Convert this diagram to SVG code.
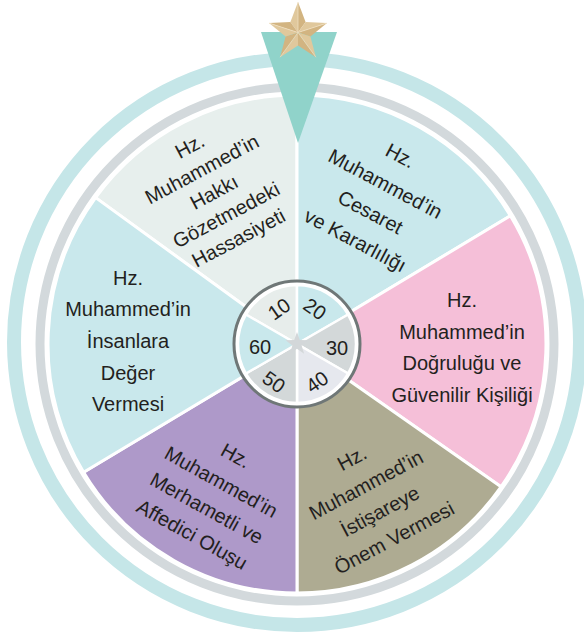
<svg xmlns="http://www.w3.org/2000/svg" width="584" height="638" viewBox="0 0 584 638">
<style>
.lbl{font-family:"Liberation Sans",Arial,sans-serif;font-size:20px;fill:#231f20;text-anchor:middle}
.num{font-family:"Liberation Sans",Arial,sans-serif;font-size:20px;fill:#231f20;text-anchor:middle;dominant-baseline:central}
.sl{stroke:#ffffff;stroke-width:3;stroke-linejoin:round}
.hs{stroke:#ffffff;stroke-width:2.5;stroke-linejoin:round}
.fa{fill:#e0c89c}
.fb{fill:#d2b481}
.ridge{stroke:#f1e3c6;stroke-width:0.7;fill:none}
</style>
<rect width="584" height="638" fill="#ffffff"/>
<g id="rings">
<circle cx="297" cy="342" r="283" fill="none" stroke="#c5e6e8" stroke-width="14"/>
<circle cx="297" cy="344" r="257" fill="none" stroke="#d3d9dc" stroke-width="9"/>
</g>
<g id="slice-top-left">
<path class="sl" d="M297,344 L95.6,197.6 A249,249 0 0 1 297,95 Z" fill="#e7efed"/>
<text class="lbl" transform="translate(214,192) rotate(-28)"><tspan x="0" y="-45">Hz.</tspan><tspan x="0" y="-19">Muhammed’in</tspan><tspan x="0" y="7">Hakkı</tspan><tspan x="0" y="33">Gözetmedeki</tspan><tspan x="0" y="59">Hassasiyeti</tspan></text>
</g>
<g id="slice-top-right">
<path class="sl" d="M297,344 L297,95 A249,249 0 0 1 510.4,215.8 Z" fill="#c9e8ec"/>
<text class="lbl" transform="translate(378,198) rotate(28)"><tspan x="0" y="-41">Hz.</tspan><tspan x="0" y="-9">Muhammed’in</tspan><tspan x="0" y="23">Cesaret</tspan><tspan x="0" y="55">ve Kararlılığı</tspan></text>
</g>
<g id="slice-right">
<path class="sl" d="M297,344 L510.4,215.8 A249,249 0 0 1 501,486.8 Z" fill="#f5bfd8"/>
<text class="lbl" transform="translate(462,347)"><tspan x="0" y="-40">Hz.</tspan><tspan x="0" y="-8.5">Muhammed’in</tspan><tspan x="0" y="23">Doğruluğu ve</tspan><tspan x="0" y="54.5">Güvenilir Kişiliği</tspan></text>
</g>
<g id="slice-bottom-right">
<path class="sl" d="M297,344 L501,486.8 A249,249 0 0 1 297,593 Z" fill="#aeab92"/>
<text class="lbl" transform="translate(373,498) rotate(-28)"><tspan x="0" y="-38">Hz.</tspan><tspan x="0" y="-8">Muhammed’in</tspan><tspan x="0" y="22">İstişareye</tspan><tspan x="0" y="52">Önem Vermesi</tspan></text>
</g>
<g id="slice-bottom-left">
<path class="sl" d="M297,344 L297,593 A249,249 0 0 1 83.6,472.2 Z" fill="#ae99c9"/>
<text class="lbl" transform="translate(214,495) rotate(29)"><tspan x="0" y="-38">Hz.</tspan><tspan x="0" y="-8">Muhammed’in</tspan><tspan x="0" y="22">Merhametli ve</tspan><tspan x="0" y="52">Affedici Oluşu</tspan></text>
</g>
<g id="slice-left">
<path class="sl" d="M297,344 L83.6,472.2 A249,249 0 0 1 95.6,197.6 Z" fill="#c9e8ec"/>
<text class="lbl" transform="translate(128,341)"><tspan x="0" y="-56.4">Hz.</tspan><tspan x="0" y="-24.7">Muhammed’in</tspan><tspan x="0" y="7">İnsanlara</tspan><tspan x="0" y="38.7">Değer</tspan><tspan x="0" y="70.4">Vermesi</tspan></text>
</g>
<g id="pointer">
<polygon points="261,32 337,32 298,143" fill="#90d3ca"/>
<g id="top-star">
<polygon class="fa" points="298,32.5 290.4,22 298,2"/>
<polygon class="fb" points="298,32.5 298,2 305.6,22"/>
<polygon class="fa" points="298,32.5 305.6,22 327,23.1"/>
<polygon class="fb" points="298,32.5 327,23.1 310.4,36.5"/>
<polygon class="fa" points="298,32.5 310.4,36.5 315.9,57.2"/>
<polygon class="fb" points="298,32.5 315.9,57.2 298,45.5"/>
<polygon class="fa" points="298,32.5 298,45.5 280.1,57.2"/>
<polygon class="fb" points="298,32.5 280.1,57.2 285.6,36.5"/>
<polygon class="fa" points="298,32.5 285.6,36.5 269,23.1"/>
<polygon class="fb" points="298,32.5 269,23.1 290.4,22"/>
<path class="ridge" d="M298,32.5 L298,2 M298,32.5 L327,23.1 M298,32.5 L315.9,57.2 M298,32.5 L280.1,57.2 M298,32.5 L269,23.1"/>
</g>
</g>
<g id="hub">
<circle cx="297" cy="344" r="63" fill="#ffffff" stroke="#6f7777" stroke-width="3"/>
<path class="hs" d="M297,344 L245.9,314.5 A59,59 0 0 1 297,285 Z" fill="#e7edeb"/>
<path class="hs" d="M297,344 L297,285 A59,59 0 0 1 348.1,314.5 Z" fill="#c9e8ec"/>
<path class="hs" d="M297,344 L348.1,314.5 A59,59 0 0 1 348.1,373.5 Z" fill="#d3d8d9"/>
<path class="hs" d="M297,344 L348.1,373.5 A59,59 0 0 1 297,403 Z" fill="#e6e8ee"/>
<path class="hs" d="M297,344 L297,403 A59,59 0 0 1 245.9,373.5 Z" fill="#d3d8d9"/>
<path class="hs" d="M297,344 L245.9,373.5 A59,59 0 0 1 245.9,314.5 Z" fill="#c9e8ec"/>
<text class="num" transform="translate(279,309) rotate(-35)">10</text>
<text class="num" transform="translate(315,309) rotate(35)">20</text>
<text class="num" transform="translate(337,348)">30</text>
<text class="num" transform="translate(317,382) rotate(-35)">40</text>
<text class="num" transform="translate(274,382) rotate(35)">50</text>
<text class="num" transform="translate(260,347)">60</text>
<polygon points="297,332 299.8,340.1 308.4,340.3 301.6,345.5 304.1,353.7 297,348.8 289.9,353.7 292.4,345.5 285.6,340.3 294.2,340.1" fill="#d3d7d9"/>
</g>
</svg>
